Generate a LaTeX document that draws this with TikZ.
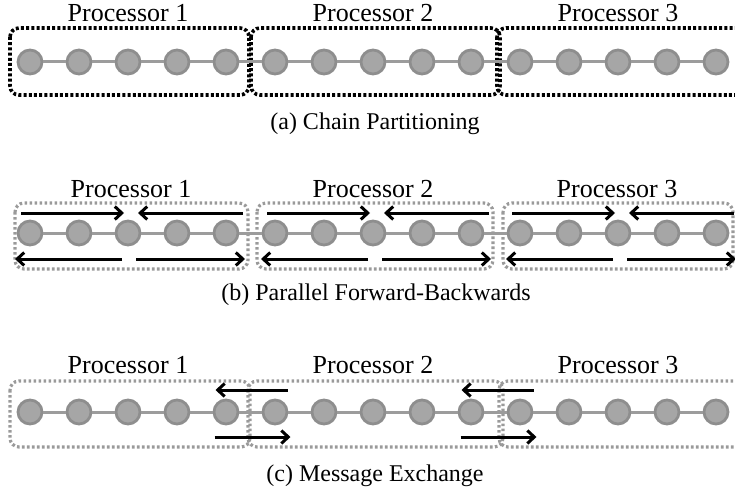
\documentclass[tikz,border=0pt]{standalone}
\usepackage{fontspec}
\setmainfont{Liberation Serif}
\usetikzlibrary{arrows.meta}
\definecolor{nodefill}{HTML}{A6A6A6}
\definecolor{nodeedge}{HTML}{8E8E8E}
\definecolor{chainline}{HTML}{9C9C9C}
\definecolor{boxgrey}{HTML}{9A9A9A}
\tikzset{
  chainnode/.style={circle, fill=nodefill, draw=nodeedge, line width=2.8pt, minimum size=24pt, inner sep=0pt},
  chainedge/.style={draw=chainline, line width=3pt},
  blackbox/.style={draw=black, line width=3.6pt, dash pattern=on 3pt off 2.2pt, rounded corners=9pt},
  greybox/.style={draw=boxgrey, line width=3.2pt, dash pattern=on 2.6pt off 2.4pt, rounded corners=9pt},
  msg/.style={line width=3pt, -{Straight Barb[length=7pt,width=13pt]}},
  proclabel/.style={font=\fontsize{26}{30}\selectfont, anchor=base, inner sep=0pt},
  captiontext/.style={font=\fontsize{24}{28}\selectfont, anchor=base, inner sep=0pt},
}
\begin{document}
\begin{tikzpicture}[x=1pt,y=-1pt]
\useasboundingbox (0,0) rectangle (735,492);

% ---------------- (a) ----------------
\draw[blackbox] (10,28) rectangle (249,95);
\draw[blackbox] (251,28) rectangle (500,95);
\draw[blackbox] (497,28) rectangle (748,95);
\foreach \i in {1,...,15} {
  \node[chainnode] (na\i) at ({30+49*(\i-1)},62) {};
}
\foreach \i [evaluate=\i as \j using int(\i+1)] in {1,...,14} {
  \draw[chainedge] (na\i) -- (na\j);
}
\node[proclabel] (pa1) at (128,22) {Processor 1};
\node[proclabel] (pa2) at (373,22) {Processor 2};
\node[proclabel] (pa3) at (618,22) {Processor 3};
\node[captiontext] (capa) at (375,129) {(a) Chain Partitioning};

% ---------------- (b) ----------------
\draw[greybox] (15,203) rectangle (248,269);
\draw[greybox] (257,203) rectangle (493,269);
\draw[greybox] (503,203) rectangle (733,269);
\foreach \i in {1,...,15} {
  \node[chainnode] (nb\i) at ({30+49*(\i-1)},233) {};
}
\foreach \i [evaluate=\i as \j using int(\i+1)] in {1,...,14} {
  \draw[chainedge] (nb\i) -- (nb\j);
}
\foreach \c [count=\k] in {128,374,619} {
  \coordinate (bts\k) at (\c-107,213);
  \coordinate (bte\k) at (\c-4,213);
  \coordinate (bus\k) at (\c+115,213);
  \coordinate (bue\k) at (\c+10,213);
  \coordinate (bls\k) at (\c-6,259);
  \coordinate (ble\k) at (\c-113,259);
  \coordinate (brs\k) at (\c+8,259);
  \coordinate (bre\k) at (\c+117,259);
  \draw[msg] (bts\k) -- (bte\k);
  \draw[msg] (bus\k) -- (bue\k);
  \draw[msg] (bls\k) -- (ble\k);
  \draw[msg] (brs\k) -- (bre\k);
}
\node[proclabel] (pb1) at (131,197) {Processor 1};
\node[proclabel] (pb2) at (373,197) {Processor 2};
\node[proclabel] (pb3) at (617,197) {Processor 3};
\node[captiontext] (capb) at (376,300) {(b) Parallel Forward-Backwards};

% ---------------- (c) ----------------
\draw[greybox] (10,381) rectangle (250,447);
\draw[greybox] (248,381) rectangle (503,447);
\draw[greybox] (499,381) rectangle (748,447);
\foreach \i in {1,...,15} {
  \node[chainnode] (nc\i) at ({30+49*(\i-1)},412) {};
}
\foreach \i [evaluate=\i as \j using int(\i+1)] in {1,...,14} {
  \draw[chainedge] (nc\i) -- (nc\j);
}
\foreach \m [count=\k] in {251.5,497.5} {
  \coordinate (cts\k) at (\m+36,390);
  \coordinate (cte\k) at (\m-36,390);
  \coordinate (cbs\k) at (\m-37,437);
  \coordinate (cbe\k) at (\m+39,437);
  \draw[msg] (cts\k) -- (cte\k);
  \draw[msg] (cbs\k) -- (cbe\k);
}
\node[proclabel] (pc1) at (128,373) {Processor 1};
\node[proclabel] (pc2) at (373,373) {Processor 2};
\node[proclabel] (pc3) at (618,373) {Processor 3};
\node[captiontext] (capc) at (375,481) {(c) Message Exchange};
\end{tikzpicture}
\end{document}
